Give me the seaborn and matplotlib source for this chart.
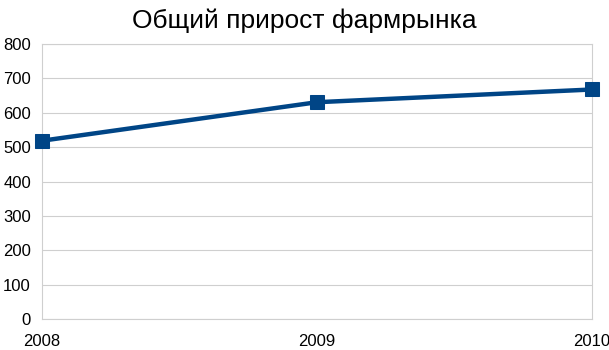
import matplotlib
matplotlib.use("Agg")
import matplotlib.pyplot as plt
import seaborn as sns
import pandas as pd

years = [2008, 2009, 2010]
values = [519, 631, 668]
title = "Общий прирост фармрынка"

sns.set_theme(style="white")
plt.rcParams['font.family'] = ['Liberation Sans', 'DejaVu Sans']

df = pd.DataFrame({"year": years, "value": values})

fig = plt.figure(figsize=(6.09, 3.5), dpi=100)
ax = fig.add_axes([0.069, 0.088, 0.903, 0.786])
sns.lineplot(data=df, x="year", y="value", ax=ax, color="#004586",
             linewidth=3.2, marker="s", markersize=10, markeredgecolor="#004586",
             clip_on=False, zorder=5)
ax.set_xlim(2008, 2010)
ax.set_ylim(0, 800)
ax.set_yticks(range(0, 801, 100))
ax.set_xticks(years)
ax.set_xticklabels([str(y) for y in years])
ax.grid(axis="y", color="#cfcfcf", linewidth=0.8)
ax.grid(axis="x", visible=False)
for s in ax.spines.values():
    s.set_color("#cfcfcf")
    s.set_linewidth(0.8)
ax.tick_params(axis="both", length=5, width=0.8, color="#cfcfcf",
               labelsize=12, labelcolor="black", direction="out")
ax.tick_params(axis="y", pad=3)
ax.tick_params(axis="x", pad=6)
ax.set_xlabel("")
ax.set_ylabel("")
fig.text(0.5, 0.975, title, ha="center", va="top", fontsize=19, color="black")
fig.savefig("out.png", dpi=100)
